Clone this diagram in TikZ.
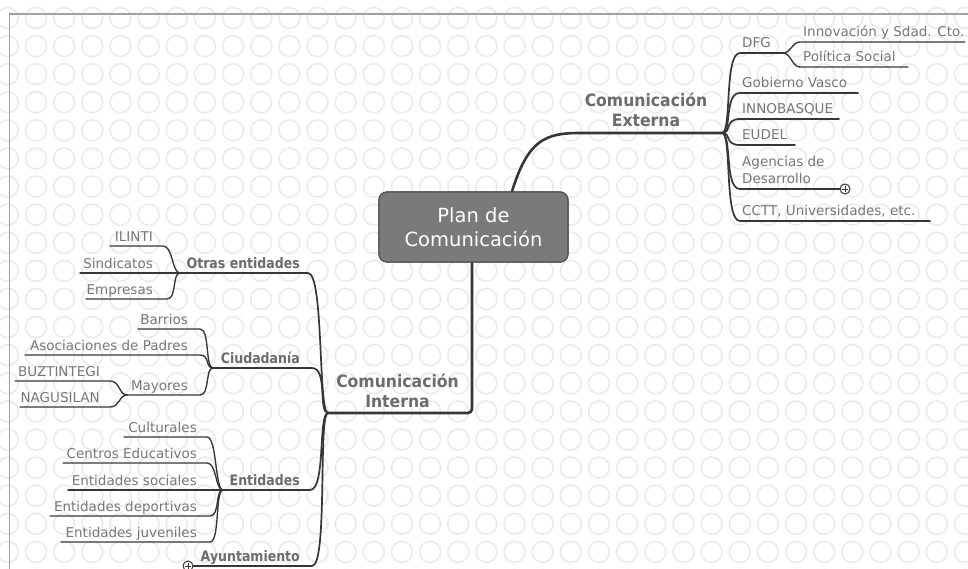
\documentclass[tikz,border=0pt]{standalone}
\usepackage{fontspec}
\setmainfont{DejaVu Sans}
\newfontfamily\narrowlbl{DejaVu Sans}[FakeStretch=0.87]
\newfontfamily\narrowmain{DejaVu Sans}[FakeStretch=0.92]
\usetikzlibrary{calc}
\definecolor{bgcirc}{HTML}{EBEBEB}
\definecolor{framec}{HTML}{A0A0A0}
\definecolor{linec}{HTML}{363636}
\definecolor{txtc}{HTML}{777777}
\definecolor{boldc}{HTML}{6C6C6C}
\definecolor{centerfill}{HTML}{7A7A7A}
\definecolor{centerdraw}{HTML}{525252}
\tikzset{
  leaf/.style={inner sep=0pt, text=txtc, font=\fontsize{13.5}{17}\selectfont},
  lvlone/.style={inner sep=0pt, text=boldc, font=\narrowlbl\fontsize{14.4}{17}\selectfont\bfseries},
  mainlbl/.style={inner sep=0pt, text=boldc, align=center, font=\narrowmain\fontsize{17}{20}\selectfont\bfseries},
  centerbox/.style={draw=centerdraw, line width=1.2pt, fill=centerfill, rounded corners=8pt,
    minimum width=189pt, minimum height=70pt, text=white, align=center,
    font=\fontsize{19.5}{24.5}\selectfont},
  trunk/.style={draw=linec, line width=2.6pt, line cap=round, line join=round},
  branch/.style={draw=linec, line width=1.7pt, line cap=round, line join=round},
  twig/.style={draw=linec, line width=1.35pt, line cap=round, line join=round},
  plusnode/.style={circle, draw=linec, line width=1pt, fill=white, minimum size=10pt, inner sep=0pt,
    path picture={\draw[linec, line width=0.9pt]
      ($(path picture bounding box.center)+(-3pt,0)$) -- ($(path picture bounding box.center)+(3pt,0)$)
      ($(path picture bounding box.center)+(0,-3pt)$) -- ($(path picture bounding box.center)+(0,3pt)$);}},
}
% #1 style, #2 start, #3 curve end, #4 underline end, #5 dx start control, #6 dx end control
\newcommand{\mmleaf}[6]{\draw[#1] (#2) .. controls ($(#2)+(#5,0)$) and ($(#3)+(#6,0)$) .. (#3) -- (#4);}
\begin{document}
\begin{tikzpicture}[x=1pt,y=-1pt]
\useasboundingbox (0,0) rectangle (968,569);
% background pattern
\begin{scope}
\clip (0,0) rectangle (968,569);
\fill[white] (0,0) rectangle (968,569);
\foreach \i in {-1,...,33} {
  \foreach \j in {0,...,20} {
    \draw[bgcirc, line width=1.6pt] (36+28.15*\i, 18+28.1*\j) circle (10.5pt);
  }
}
\end{scope}
\draw[framec, line width=1.6pt] (968,14) -- (9.5,14) -- (9.5,569);

% ---------- coordinates ----------
\coordinate (efan) at (722,133);
\coordinate (ifan) at (328,413);
% external
\coordinate (dfgA) at (740,53);   \coordinate (dfgB) at (783,53);
\coordinate (innA) at (800,42);   \coordinate (innB) at (965,42);
\coordinate (polA) at (800,67);   \coordinate (polB) at (908,67);
\coordinate (gvA) at (740,93);    \coordinate (gvB) at (858,93);
\coordinate (inbA) at (740,119);  \coordinate (inbB) at (839,119);
\coordinate (eudA) at (740,145);  \coordinate (eudB) at (795,145);
\coordinate (ageA) at (740,189);  \coordinate (ageB) at (840,189);
\coordinate (cctA) at (740,221);  \coordinate (cctB) at (930,221);
% internal level one
\coordinate (otrR) at (308,273);  \coordinate (otrF) at (180,273);
\coordinate (ciuR) at (312,368);  \coordinate (ciuF) at (213,368);
\coordinate (entR) at (310,490);  \coordinate (entF) at (223,490);
\coordinate (ayuR) at (312,566);  \coordinate (ayuL) at (193,566);
% otras entidades
\coordinate (iliR) at (163,246);  \coordinate (iliL) at (110,246);
\coordinate (sinL) at (80,273);
\coordinate (empR) at (167,299);  \coordinate (empL) at (86,299);
% ciudadania
\coordinate (barR) at (200,329);  \coordinate (barL) at (138,329);
\coordinate (asoR) at (200,355);  \coordinate (asoL) at (25,355);
\coordinate (mayR) at (200,395);  \coordinate (mayF) at (127,395);
\coordinate (buzR) at (110,381);  \coordinate (buzL) at (15,381);
\coordinate (nagR) at (110,407);  \coordinate (nagL) at (20,407);
% entidades
\coordinate (culR) at (207,437);  \coordinate (culL) at (124,437);
\coordinate (cenR) at (207,463);  \coordinate (cenL) at (63,463);
\coordinate (socL) at (68,490);
\coordinate (depR) at (210,516);  \coordinate (depL) at (50,516);
\coordinate (juvR) at (210,542);  \coordinate (juvL) at (61,542);

% ---------- trunks ----------
\node[centerbox] (root) at (473.5,227) {Plan de\\Comunicación};
\draw[trunk] ($(root.north)+(38.5,0)$) .. controls (528,140) and (545,133) .. (580,133) -- (efan);
\draw[trunk, rounded corners=4pt] ($(root.south)+(-1.5,0)$) -- (472,413) -- (ifan);
\node[centerbox] at (root) {Plan de\\Comunicación};

% ---------- external branches ----------
\mmleaf{branch}{efan}{dfgA}{dfgB}{10}{-16}
\mmleaf{twig}{dfgB}{innA}{innB}{8}{-8}
\mmleaf{twig}{dfgB}{polA}{polB}{8}{-8}
\mmleaf{branch}{efan}{gvA}{gvB}{10}{-16}
\mmleaf{branch}{efan}{inbA}{inbB}{10}{-16}
\mmleaf{branch}{efan}{eudA}{eudB}{10}{-16}
\mmleaf{branch}{efan}{ageA}{ageB}{10}{-16}
\mmleaf{branch}{efan}{cctA}{cctB}{10}{-16}
\node[plusnode] (agePlus) at (845,189) {};

% ---------- internal branches ----------
\mmleaf{branch}{ifan}{otrR}{otrF}{-10}{16}
\mmleaf{branch}{ifan}{ciuR}{ciuF}{-10}{16}
\mmleaf{branch}{ifan}{entR}{entF}{-10}{16}
\mmleaf{branch}{ifan}{ayuR}{ayuL}{-10}{16}
\node[plusnode] (ayuPlus) at (188,566) {};

\mmleaf{twig}{otrF}{iliR}{iliL}{-8}{10}
\draw[twig] (otrF) -- (sinL);
\mmleaf{twig}{otrF}{empR}{empL}{-8}{10}

\mmleaf{twig}{ciuF}{barR}{barL}{-8}{10}
\mmleaf{twig}{ciuF}{asoR}{asoL}{-8}{10}
\mmleaf{twig}{ciuF}{mayR}{mayF}{-8}{10}
\mmleaf{twig}{mayF}{buzR}{buzL}{-8}{10}
\mmleaf{twig}{mayF}{nagR}{nagL}{-8}{10}

\mmleaf{twig}{entF}{culR}{culL}{-8}{10}
\mmleaf{twig}{entF}{cenR}{cenL}{-8}{10}
\draw[twig] (entF) -- (socL);
\mmleaf{twig}{entF}{depR}{depL}{-8}{10}
\mmleaf{twig}{entF}{juvR}{juvL}{-8}{10}

% ---------- labels (multi-line base = last line) ----------
\node[mainlbl, anchor=base] (ext) at (646,127) {Comunicación\\Externa};
\node[mainlbl, anchor=base] (int) at (397.5,407) {Comunicación\\Interna};

\node[leaf, anchor=base west] (tdfg) at (742,48) {DFG};
\node[leaf, anchor=base west] (tinn) at (803,37) {Innovación y Sdad. Cto.};
\node[leaf, anchor=base west] (tpol) at (803,62) {Política Social};
\node[leaf, anchor=base west] (tgv) at (742,88) {Gobierno Vasco};
\node[leaf, anchor=base west] (tinb) at (742,114) {INNOBASQUE};
\node[leaf, anchor=base west] (teud) at (742,140) {EUDEL};
\node[leaf, anchor=base west, align=left] (tage) at (742,184) {Agencias de\\Desarrollo};
\node[leaf, anchor=base west] (tcct) at (742,216) {CCTT, Universidades, etc.};

\node[lvlone, anchor=base east] (totr) at (300,268) {Otras entidades};
\node[lvlone, anchor=base east] (tciu) at (300,363) {Ciudadanía};
\node[lvlone, anchor=base east] (tent) at (300,485) {Entidades};
\node[lvlone, anchor=base east] (tayu) at (300,561) {Ayuntamiento};

\node[leaf, anchor=base east] (tili) at (153,241) {ILINTI};
\node[leaf, anchor=base east] (tsin) at (153,268) {Sindicatos};
\node[leaf, anchor=base east] (temp) at (153,294) {Empresas};
\node[leaf, anchor=base east] (tbar) at (188,324) {Barrios};
\node[leaf, anchor=base east] (taso) at (188,350) {Asociaciones de Padres};
\node[leaf, anchor=base east] (tmay) at (188,390) {Mayores};
\node[leaf, anchor=base east] (tbuz) at (100,376) {BUZTINTEGI};
\node[leaf, anchor=base east] (tnag) at (100,402) {NAGUSILAN};
\node[leaf, anchor=base east] (tcul) at (197,432) {Culturales};
\node[leaf, anchor=base east] (tcen) at (197,458) {Centros Educativos};
\node[leaf, anchor=base east] (tsoc) at (197,485) {Entidades sociales};
\node[leaf, anchor=base east] (tdep) at (197,511) {Entidades deportivas};
\node[leaf, anchor=base east] (tjuv) at (197,537) {Entidades juveniles};
\end{tikzpicture}
\end{document}
